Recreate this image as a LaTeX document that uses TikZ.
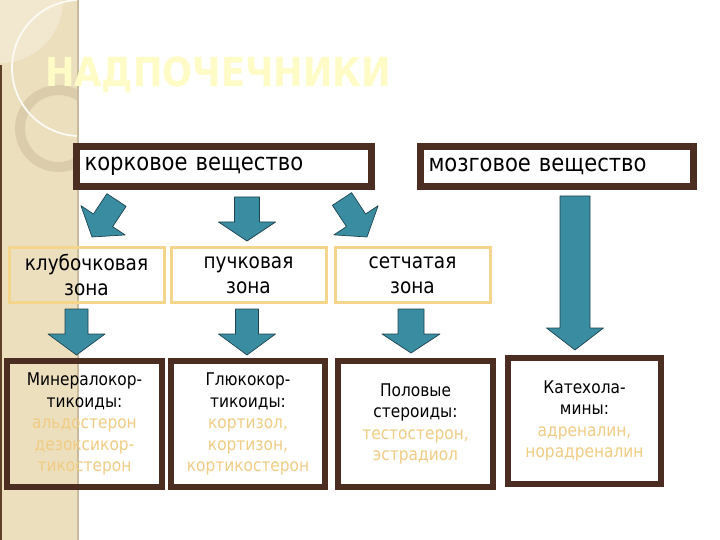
\documentclass[tikz,border=0pt]{standalone}
\usepackage{fontspec}
\setmainfont{DejaVu Sans}[FakeStretch=0.88]
\usetikzlibrary{calc, positioning}
\definecolor{stripbeige}{HTML}{ECDFBE}
\definecolor{striplight}{HTML}{F2E8CF}
\definecolor{stripring}{HTML}{DBCDAB}
\definecolor{stripedge}{HTML}{C9BB9C}
\definecolor{stripdark}{HTML}{5E4028}
\definecolor{boxbrown}{HTML}{4B2D22}
\definecolor{zoneyellow}{HTML}{F5D58C}
\definecolor{hormtext}{HTML}{F0CC84}
\definecolor{arrowteal}{HTML}{3A8CA0}
\definecolor{arrowedge}{HTML}{1E4452}
\definecolor{titleyellow}{HTML}{FFFBC6}
\newcommand{\hrm}[1]{\textcolor{hormtext}{#1}}
% block arrow: tail, tip, shaft half width, head half width, head length
\newcommand{\blockarrow}[5]{%
  \coordinate (ba-b) at ($(#2)!#5!(#1)$);
  \draw[bigarrow] ($(#1)!#3!90:(#2)$) -- ($(ba-b)!#3!-90:(#1)$)
    -- ($(ba-b)!#4!-90:(#1)$) -- (#2) -- ($(ba-b)!#4!90:(#1)$)
    -- ($(ba-b)!#3!90:(#1)$) -- ($(#1)!#3!-90:(#2)$) -- cycle;
}

\begin{document}
\begin{tikzpicture}[
    x=1pt, y=-1pt,
    title/.style   ={text=titleyellow, font=\fontsize{40}{44}\selectfont\bfseries,
                     inner sep=0pt},
    mainbox/.style ={draw=boxbrown, line width=6.5pt, inner xsep=8pt, inner ysep=0pt,
                     minimum height=40pt, align=left,
                     font=\fontsize{24}{28}\selectfont},
    zonebox/.style ={draw=zoneyellow, line width=3pt, minimum width=155pt,
                     minimum height=55pt, align=center,
                     font=\fontsize{21}{25}\selectfont},
    hormbox/.style ={draw=boxbrown, line width=6pt, minimum width=155pt,
                     minimum height=126pt, align=center,
                     font=\fontsize{17.5}{21.5}\selectfont},
    bigarrow/.style={fill=arrowteal, draw=arrowedge, line width=0.7pt, line join=round},
]
\useasboundingbox (0,0) rectangle (720,540);
\fill[white] (0,0) rectangle (720,540);

% left strip
\fill[stripbeige] (0,0) rectangle (78,540);
\begin{scope}
  \clip (0,0) rectangle (78,540);
  \fill[striplight] (0,0) circle (63);
  \draw[stripring, line width=10pt] (58.5,128.5) circle (38.5);
  \draw[white!85!stripbeige, line width=1.8pt] (80,68) circle (68);
\end{scope}
\draw[stripedge, line width=1.2pt] (78,0) -- (78,540);
\draw[stripdark, line width=1.5pt] (0.75,65) -- (0.75,540);

\node[title, anchor=base west] (title) at (45,87) {НАДПОЧЕЧНИКИ};

% top row
\node[mainbox, minimum width=295pt, text width=279pt] (cortex)  at (224,166.5) {корковое вещество};
\node[mainbox, minimum width=273pt, text width=257pt] (medulla) at (557,166.5) {мозговое вещество};

% zones
\node[zonebox] (glom) at (86.5,275) {клубочковая\\зона};
\node[zonebox] (fasc) at (248.5,275) {пучковая\\зона};
\node[zonebox] (retic) at (412.5,275) {сетчатая\\зона};

% hormones
\node[hormbox] (mineral) at (84.5,424) {Минералокор-\\тикоиды:\\\hrm{альдостерон}\\\hrm{дезоксикор-}\\\hrm{тикостерон}};
\node[hormbox, minimum width=154pt] (gluco) at (248,424) {Глюкокор-\\тикоиды:\\\hrm{кортизол,}\\\hrm{кортизон,}\\\hrm{кортикостерон}};
\node[hormbox] (sex) at (415.5,424) {Половые\\стероиды:\\\hrm{тестостерон,}\\\hrm{эстрадиол}};
\node[hormbox, minimum width=153pt] (catechol) at (584.5,421) {Катехола-\\мины:\\\hrm{адреналин,}\\\hrm{норадреналин}};

% arrow ends
\coordinate (c1) at (116.5,200);  \coordinate (g1) at (92,237);
\coordinate (c2) at (247,197);    \coordinate (g2) at (247,241);
\coordinate (c3) at (342,199);    \coordinate (g3) at (367,237);
\coordinate (z1) at (76.5,309);   \coordinate (h1) at (76.5,355);
\coordinate (z2) at (247,309);    \coordinate (h2) at (247,355);
\coordinate (z3) at (411,309);    \coordinate (h3) at (411,353);
\coordinate (m1) at (575,196);    \coordinate (h4) at (575,350);

\blockarrow{c1}{g1}{11.5pt}{26.5pt}{20pt}
\blockarrow{c2}{g2}{12.5pt}{28.5pt}{19pt}
\blockarrow{c3}{g3}{11.5pt}{26.5pt}{20pt}
\blockarrow{z1}{h1}{11.5pt}{28.5pt}{21pt}
\blockarrow{z2}{h2}{11.5pt}{28.5pt}{21pt}
\blockarrow{z3}{h3}{13pt}{29pt}{19pt}
\blockarrow{m1}{h4}{15pt}{28.5pt}{22pt}
\end{tikzpicture}
\end{document}
